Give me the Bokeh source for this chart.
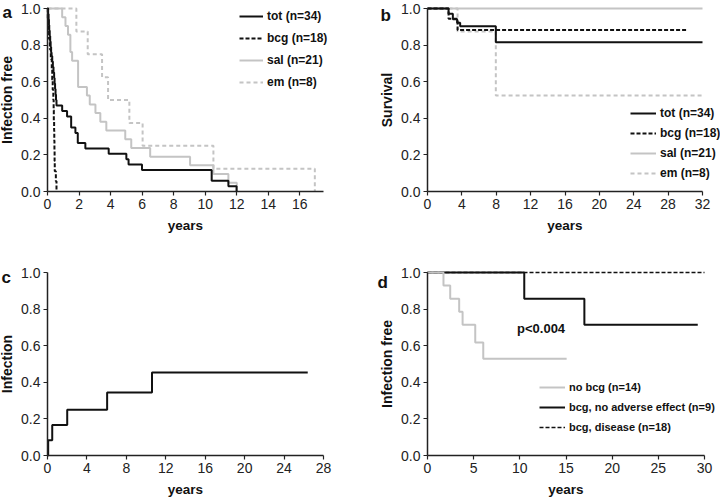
from bokeh.plotting import figure
from bokeh.layouts import column, row
from bokeh.models import Range1d, FixedTicker, Legend, LegendItem, Label
from bokeh.embed import file_html
from bokeh.resources import INLINE

FONT = "Liberation Sans"
BLACK = "#111111"
GRAY = "#c4c4c4"

# ---------------- data ----------------
y_ticks = [0.0, 0.2, 0.4, 0.6, 0.8, 1.0]
y_tick_labels = ["0.0", "0.2", "0.4", "0.6", "0.8", "1.0"]

# panel a : infection free
a_x_ticks = [0, 2, 4, 6, 8, 10, 12, 14, 16]
a_x_end = 17.5
a_tot_t = [0.04, 0.07, 0.09, 0.11, 0.14, 0.17, 0.2, 0.23, 0.26, 0.3, 0.34, 0.38, 0.42,
           0.45, 0.48, 0.51, 0.54, 0.57, 0.93, 1.24, 1.5, 1.77, 1.92, 2.4, 3.88, 5.0,
           5.14, 5.99, 10.41, 11.47, 11.99]
a_tot_s = [0.97, 0.94, 0.91, 0.88, 0.85, 0.82, 0.79, 0.76, 0.74, 0.71, 0.68, 0.65, 0.62,
           0.59, 0.56, 0.53, 0.50, 0.47, 0.44, 0.41, 0.35, 0.32, 0.265, 0.235, 0.206,
           0.176, 0.147, 0.118, 0.059, 0.029, 0.0]
a_bcg_t = [0.02, 0.06, 0.1, 0.15, 0.21, 0.27, 0.3, 0.33, 0.37, 0.39, 0.4, 0.42, 0.43,
           0.44, 0.45, 0.46, 0.53, 0.57]
a_bcg_s = [0.944, 0.889, 0.833, 0.778, 0.722, 0.667, 0.611, 0.556, 0.5, 0.444, 0.389,
           0.333, 0.278, 0.222, 0.167, 0.111, 0.056, 0.0]
a_sal_t = [0.93, 1.14, 1.3, 1.45, 1.56, 1.94, 2.5, 2.68, 3.04, 3.35, 3.73, 4.93, 5.31,
           6.51, 9.04, 10.52, 11.47, 12.0]
a_sal_s = [0.952, 0.905, 0.857, 0.762, 0.714, 0.571, 0.524, 0.476, 0.429, 0.381, 0.333,
           0.286, 0.238, 0.19, 0.143, 0.095, 0.048, 0.0]
a_em_t = [1.83, 2.55, 3.46, 3.84, 5.19, 6.03, 10.52, 16.95]
a_em_s = [0.875, 0.75, 0.625, 0.5, 0.375, 0.25, 0.125, 0.0]

# panel b : survival
b_x_ticks = [0, 4, 8, 12, 16, 20, 24, 28, 32]
b_x_end = 32
b_tot_t = [2.45, 2.95, 3.45, 3.8, 7.95]
b_tot_s = [0.971, 0.941, 0.922, 0.903, 0.816]
b_tot_end = 32
b_bcg_t = [2.45, 3.5]
b_bcg_s = [0.944, 0.883]
b_bcg_end = 30.2
b_sal_t = []
b_sal_s = []
b_sal_end = 32
b_em_t = [3.5, 7.95]
b_em_s = [0.875, 0.525]
b_em_end = 32

# panel c : cumulative infection
c_x_ticks = [0, 4, 8, 12, 16, 20, 24, 28]
c_x_end = 28
c_t = [0.07, 0.48, 2.0, 6.05, 10.6]
c_s = [0.083, 0.167, 0.25, 0.344, 0.453]
c_end = 26.4

# panel d : infection free by group
d_x_ticks = [0, 5, 10, 15, 20, 25, 30]
d_x_end = 30
d_nobcg_t = [1.73, 2.46, 3.43, 3.8, 5.17, 6.04]
d_nobcg_s = [0.929, 0.857, 0.786, 0.714, 0.617, 0.529]
d_nobcg_end = 15.07
d_noadv_t = [10.48, 16.99]
d_noadv_s = [0.857, 0.714]
d_noadv_end = 29.27
d_dis_t = []
d_dis_s = []
d_dis_end = 30

legend_a = ["tot (n=34)", "bcg (n=18)", "sal (n=21)", "em (n=8)"]
legend_d = ["no bcg (n=14)", "bcg, no adverse effect (n=9)", "bcg, disease (n=18)"]
p_text = "p<0.004"
p_pos = (12.3, 0.695)

FRAME_W, FRAME_H = 360, 250


def steps(times, vals, end, start_val=1.0):
    xs = [0.0] + list(times)
    ys = [start_val] + list(vals)
    if end is not None and end > xs[-1]:
        xs.append(end)
        ys.append(ys[-1])
    return xs, ys


def make_fig(x_end, x_ticks, y_label, pad_l, plot_w, pad_t, plot_h):
    """Whole figure is the frame; both axes are fixed at the data origin."""
    kx = plot_w / x_end
    ky = plot_h / 1.0
    pad_r = FRAME_W - pad_l - plot_w
    pad_b = FRAME_H - pad_t - plot_h
    p = figure(frame_width=FRAME_W, frame_height=FRAME_H,
               x_range=Range1d(-pad_l / kx, x_end + pad_r / kx),
               y_range=Range1d(-pad_b / ky, 1.0 + pad_t / ky),
               output_backend="svg", toolbar_location=None,
               min_border_left=0, min_border_right=0,
               min_border_top=0, min_border_bottom=0)
    p.outline_line_color = None
    p.background_fill_color = "white"
    p.border_fill_color = "white"
    p.grid.visible = False
    p.xaxis.ticker = FixedTicker(ticks=x_ticks)
    p.xaxis.bounds = (0, x_end)
    p.xaxis.fixed_location = 0
    p.yaxis.ticker = FixedTicker(ticks=y_ticks)
    p.yaxis.bounds = (0, 1.0)
    p.yaxis.fixed_location = 0
    p.yaxis.major_label_overrides = {t: l for t, l in zip(y_ticks, y_tick_labels)}
    p.xaxis.axis_label = "years"
    p.yaxis.axis_label = y_label
    for ax in (p.xaxis[0], p.yaxis[0]):
        ax.axis_line_color = "#222222"
        ax.axis_line_width = 1.5
        ax.major_tick_line_color = "#222222"
        ax.major_tick_line_width = 1.2
        ax.major_tick_in = 0
        ax.major_tick_out = 4
        ax.minor_tick_line_color = None
        ax.major_label_text_font = FONT
        ax.major_label_text_font_size = "14px"
        ax.major_label_text_color = "#222222"
        ax.major_label_standoff = 3
        ax.axis_label_text_font = FONT
        ax.axis_label_text_font_style = "bold"
        ax.axis_label_text_color = "#111111"
    p.xaxis[0].axis_label_text_font_size = "13.5px"
    p.xaxis[0].axis_label_standoff = 6
    p.yaxis[0].axis_label_text_font_size = "14px"
    p.yaxis[0].axis_label_standoff = 3
    return p


def panel_label(p, text, x, baseline_from_top):
    p.add_layout(Label(x=x, y=FRAME_H - baseline_from_top, x_units="screen",
                       y_units="screen", text=text,
                       text_font=FONT, text_font_size="17px", text_font_style="bold",
                       text_color="#111111", text_baseline="alphabetic"))


def add_legend(p, items, loc, item_h, glyph_w, font_size="12px"):
    lg = Legend(items=items, location=loc, padding=0, margin=0, spacing=2,
                glyph_width=glyph_w, glyph_height=item_h, label_height=item_h,
                label_standoff=4, label_text_font=FONT, label_text_font_size=font_size,
                label_text_font_style="bold", label_text_color="#111111",
                border_line_color=None, background_fill_alpha=0)
    p.add_layout(lg, "center")


# ---- panel a ----
pa = make_fig(a_x_end, a_x_ticks, "Infection free", 47, 276, 8, 183)
x, y = steps(a_sal_t, a_sal_s, None)
r_sal = pa.step(x, y, mode="after", line_color=GRAY, line_width=2)
x, y = steps(a_em_t, a_em_s, None)
r_em = pa.step(x, y, mode="after", line_color=GRAY, line_width=2, line_dash="4 3")
x, y = steps(a_bcg_t, a_bcg_s, None)
r_bcg = pa.step(x, y, mode="after", line_color=BLACK, line_width=2, line_dash="4 2")
x, y = steps(a_tot_t, a_tot_s, None)
r_tot = pa.step(x, y, mode="after", line_color=BLACK, line_width=2)
add_legend(pa, [LegendItem(label=legend_a[0], renderers=[r_tot]),
                LegendItem(label=legend_a[1], renderers=[r_bcg]),
                LegendItem(label=legend_a[2], renderers=[r_sal]),
                LegendItem(label=legend_a[3], renderers=[r_em])], (239, 158), 20, 24)
panel_label(pa, "a", 2, 12)

# ---- panel b ----
pb = make_fig(b_x_end, b_x_ticks, "Survival", 67, 275, 8, 183)
x, y = steps(b_sal_t, b_sal_s, b_sal_end)
r_sal = pb.step(x, y, mode="after", line_color=GRAY, line_width=2)
x, y = steps(b_em_t, b_em_s, b_em_end)
r_em = pb.step(x, y, mode="after", line_color=GRAY, line_width=2, line_dash="4 3")
x, y = steps(b_bcg_t, b_bcg_s, b_bcg_end)
r_bcg = pb.step(x, y, mode="after", line_color=BLACK, line_width=2, line_dash="4 2")
x, y = steps(b_tot_t, b_tot_s, b_tot_end)
r_tot = pb.step(x, y, mode="after", line_color=BLACK, line_width=2)
add_legend(pb, [LegendItem(label=legend_a[0], renderers=[r_tot]),
                LegendItem(label=legend_a[1], renderers=[r_bcg]),
                LegendItem(label=legend_a[2], renderers=[r_sal]),
                LegendItem(label=legend_a[3], renderers=[r_em])], (270, 68), 18, 26)
panel_label(pb, "b", 20, 15)

# ---- panel c ----
pc = make_fig(c_x_end, c_x_ticks, "Infection", 47, 276, 22, 183)
x, y = steps(c_t, c_s, c_end, start_val=0.0)
pc.step(x, y, mode="after", line_color=BLACK, line_width=2)
panel_label(pc, "c", 1, 27)

# ---- panel d ----
pd_ = make_fig(d_x_end, d_x_ticks, "Infection free", 67, 277, 22, 183)
x, y = steps(d_dis_t, d_dis_s, d_dis_end)
r_dis = pd_.step(x, y, mode="after", line_color=BLACK, line_width=1.6, line_dash="4 2")
x, y = steps(d_noadv_t, d_noadv_s, d_noadv_end)
r_noadv = pd_.step(x, y, mode="after", line_color=BLACK, line_width=2)
x, y = steps(d_nobcg_t, d_nobcg_s, d_nobcg_end)
r_nobcg = pd_.step(x, y, mode="after", line_color=GRAY, line_width=2)
add_legend(pd_, [LegendItem(label=legend_d[0], renderers=[r_nobcg]),
                 LegendItem(label=legend_d[1], renderers=[r_noadv]),
                 LegendItem(label=legend_d[2], renderers=[r_dis])], (179, 64), 18, 26,
           "11px")
pd_.add_layout(Label(x=p_pos[0], y=p_pos[1], text=p_text, text_font=FONT,
                     text_font_size="13px", text_font_style="bold", text_color="#111111",
                     text_align="center", text_baseline="middle"))
panel_label(pd_, "d", 17, 32)

layout = column(row(pa, pb), row(pc, pd_))
open("out.html", "w").write(file_html(layout, INLINE))
